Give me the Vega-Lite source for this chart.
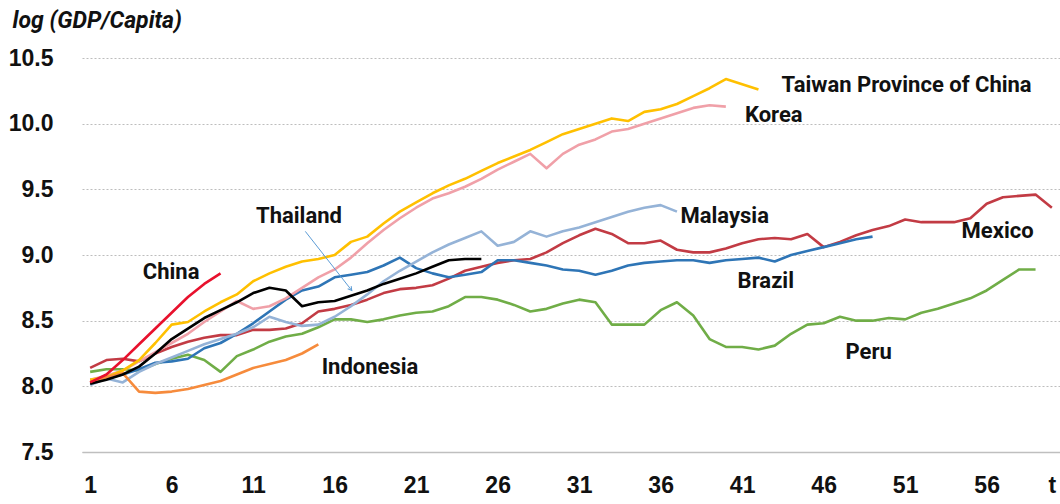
{
  "$schema": "https://vega.github.io/schema/vega-lite/v6.json",
  "width": 978,
  "height": 394,
  "autosize": {"type": "none"},
  "padding": {"left": 82, "top": 58, "right": 0, "bottom": 52},
  "background": "white",
  "config": {"view": {"stroke": null}},
  "datasets": {
    "series": [
      {"c":"Peru","t":1,"v":8.11},{"c":"Peru","t":2,"v":8.13},{"c":"Peru","t":3,"v":8.13},{"c":"Peru","t":4,"v":8.12},{"c":"Peru","t":5,"v":8.17},{"c":"Peru","t":6,"v":8.21},{"c":"Peru","t":7,"v":8.24},{"c":"Peru","t":8,"v":8.2},{"c":"Peru","t":9,"v":8.11},{"c":"Peru","t":10,"v":8.23},{"c":"Peru","t":11,"v":8.28},{"c":"Peru","t":12,"v":8.34},{"c":"Peru","t":13,"v":8.38},{"c":"Peru","t":14,"v":8.4},{"c":"Peru","t":15,"v":8.45},{"c":"Peru","t":16,"v":8.51},{"c":"Peru","t":17,"v":8.51},{"c":"Peru","t":18,"v":8.49},{"c":"Peru","t":19,"v":8.51},{"c":"Peru","t":20,"v":8.54},{"c":"Peru","t":21,"v":8.56},{"c":"Peru","t":22,"v":8.57},{"c":"Peru","t":23,"v":8.61},{"c":"Peru","t":24,"v":8.68},{"c":"Peru","t":25,"v":8.68},{"c":"Peru","t":26,"v":8.66},{"c":"Peru","t":27,"v":8.62},{"c":"Peru","t":28,"v":8.57},{"c":"Peru","t":29,"v":8.59},{"c":"Peru","t":30,"v":8.63},{"c":"Peru","t":31,"v":8.66},{"c":"Peru","t":32,"v":8.64},{"c":"Peru","t":33,"v":8.47},{"c":"Peru","t":34,"v":8.47},{"c":"Peru","t":35,"v":8.47},{"c":"Peru","t":36,"v":8.58},{"c":"Peru","t":37,"v":8.64},{"c":"Peru","t":38,"v":8.54},{"c":"Peru","t":39,"v":8.36},{"c":"Peru","t":40,"v":8.3},{"c":"Peru","t":41,"v":8.3},{"c":"Peru","t":42,"v":8.28},{"c":"Peru","t":43,"v":8.31},{"c":"Peru","t":44,"v":8.4},{"c":"Peru","t":45,"v":8.47},{"c":"Peru","t":46,"v":8.48},{"c":"Peru","t":47,"v":8.53},{"c":"Peru","t":48,"v":8.5},{"c":"Peru","t":49,"v":8.5},{"c":"Peru","t":50,"v":8.52},{"c":"Peru","t":51,"v":8.51},{"c":"Peru","t":52,"v":8.56},{"c":"Peru","t":53,"v":8.59},{"c":"Peru","t":54,"v":8.63},{"c":"Peru","t":55,"v":8.67},{"c":"Peru","t":56,"v":8.73},{"c":"Peru","t":57,"v":8.81},{"c":"Peru","t":58,"v":8.89},{"c":"Peru","t":59,"v":8.89},
      {"c":"Mexico","t":1,"v":8.14},{"c":"Mexico","t":2,"v":8.2},{"c":"Mexico","t":3,"v":8.21},{"c":"Mexico","t":4,"v":8.19},{"c":"Mexico","t":5,"v":8.25},{"c":"Mexico","t":6,"v":8.3},{"c":"Mexico","t":7,"v":8.34},{"c":"Mexico","t":8,"v":8.37},{"c":"Mexico","t":9,"v":8.39},{"c":"Mexico","t":10,"v":8.39},{"c":"Mexico","t":11,"v":8.43},{"c":"Mexico","t":12,"v":8.43},{"c":"Mexico","t":13,"v":8.44},{"c":"Mexico","t":14,"v":8.48},{"c":"Mexico","t":15,"v":8.57},{"c":"Mexico","t":16,"v":8.59},{"c":"Mexico","t":17,"v":8.62},{"c":"Mexico","t":18,"v":8.66},{"c":"Mexico","t":19,"v":8.71},{"c":"Mexico","t":20,"v":8.74},{"c":"Mexico","t":21,"v":8.75},{"c":"Mexico","t":22,"v":8.77},{"c":"Mexico","t":23,"v":8.82},{"c":"Mexico","t":24,"v":8.88},{"c":"Mexico","t":25,"v":8.91},{"c":"Mexico","t":26,"v":8.94},{"c":"Mexico","t":27,"v":8.96},{"c":"Mexico","t":28,"v":8.97},{"c":"Mexico","t":29,"v":9.02},{"c":"Mexico","t":30,"v":9.09},{"c":"Mexico","t":31,"v":9.15},{"c":"Mexico","t":32,"v":9.2},{"c":"Mexico","t":33,"v":9.16},{"c":"Mexico","t":34,"v":9.09},{"c":"Mexico","t":35,"v":9.09},{"c":"Mexico","t":36,"v":9.11},{"c":"Mexico","t":37,"v":9.04},{"c":"Mexico","t":38,"v":9.02},{"c":"Mexico","t":39,"v":9.02},{"c":"Mexico","t":40,"v":9.05},{"c":"Mexico","t":41,"v":9.09},{"c":"Mexico","t":42,"v":9.12},{"c":"Mexico","t":43,"v":9.13},{"c":"Mexico","t":44,"v":9.12},{"c":"Mexico","t":45,"v":9.16},{"c":"Mexico","t":46,"v":9.06},{"c":"Mexico","t":47,"v":9.1},{"c":"Mexico","t":48,"v":9.15},{"c":"Mexico","t":49,"v":9.19},{"c":"Mexico","t":50,"v":9.22},{"c":"Mexico","t":51,"v":9.27},{"c":"Mexico","t":52,"v":9.25},{"c":"Mexico","t":53,"v":9.25},{"c":"Mexico","t":54,"v":9.25},{"c":"Mexico","t":55,"v":9.28},{"c":"Mexico","t":56,"v":9.39},{"c":"Mexico","t":57,"v":9.44},{"c":"Mexico","t":58,"v":9.45},{"c":"Mexico","t":59,"v":9.46},{"c":"Mexico","t":60,"v":9.36},
      {"c":"Brazil","t":1,"v":8.05},{"c":"Brazil","t":2,"v":8.06},{"c":"Brazil","t":3,"v":8.09},{"c":"Brazil","t":4,"v":8.13},{"c":"Brazil","t":5,"v":8.18},{"c":"Brazil","t":6,"v":8.19},{"c":"Brazil","t":7,"v":8.21},{"c":"Brazil","t":8,"v":8.29},{"c":"Brazil","t":9,"v":8.33},{"c":"Brazil","t":10,"v":8.4},{"c":"Brazil","t":11,"v":8.48},{"c":"Brazil","t":12,"v":8.57},{"c":"Brazil","t":13,"v":8.66},{"c":"Brazil","t":14,"v":8.73},{"c":"Brazil","t":15,"v":8.76},{"c":"Brazil","t":16,"v":8.83},{"c":"Brazil","t":17,"v":8.85},{"c":"Brazil","t":18,"v":8.87},{"c":"Brazil","t":19,"v":8.92},{"c":"Brazil","t":20,"v":8.98},{"c":"Brazil","t":21,"v":8.9},{"c":"Brazil","t":22,"v":8.86},{"c":"Brazil","t":23,"v":8.83},{"c":"Brazil","t":24,"v":8.85},{"c":"Brazil","t":25,"v":8.87},{"c":"Brazil","t":26,"v":8.96},{"c":"Brazil","t":27,"v":8.96},{"c":"Brazil","t":28,"v":8.94},{"c":"Brazil","t":29,"v":8.92},{"c":"Brazil","t":30,"v":8.89},{"c":"Brazil","t":31,"v":8.88},{"c":"Brazil","t":32,"v":8.85},{"c":"Brazil","t":33,"v":8.88},{"c":"Brazil","t":34,"v":8.92},{"c":"Brazil","t":35,"v":8.94},{"c":"Brazil","t":36,"v":8.95},{"c":"Brazil","t":37,"v":8.96},{"c":"Brazil","t":38,"v":8.96},{"c":"Brazil","t":39,"v":8.94},{"c":"Brazil","t":40,"v":8.96},{"c":"Brazil","t":41,"v":8.97},{"c":"Brazil","t":42,"v":8.98},{"c":"Brazil","t":43,"v":8.95},{"c":"Brazil","t":44,"v":9.0},{"c":"Brazil","t":45,"v":9.03},{"c":"Brazil","t":46,"v":9.06},{"c":"Brazil","t":47,"v":9.09},{"c":"Brazil","t":48,"v":9.12},{"c":"Brazil","t":49,"v":9.14},
      {"c":"Malaysia","t":1,"v":8.01},{"c":"Malaysia","t":2,"v":8.06},{"c":"Malaysia","t":3,"v":8.03},{"c":"Malaysia","t":4,"v":8.11},{"c":"Malaysia","t":5,"v":8.17},{"c":"Malaysia","t":6,"v":8.22},{"c":"Malaysia","t":7,"v":8.27},{"c":"Malaysia","t":8,"v":8.32},{"c":"Malaysia","t":9,"v":8.36},{"c":"Malaysia","t":10,"v":8.4},{"c":"Malaysia","t":11,"v":8.45},{"c":"Malaysia","t":12,"v":8.53},{"c":"Malaysia","t":13,"v":8.49},{"c":"Malaysia","t":14,"v":8.46},{"c":"Malaysia","t":15,"v":8.47},{"c":"Malaysia","t":16,"v":8.53},{"c":"Malaysia","t":17,"v":8.61},{"c":"Malaysia","t":18,"v":8.7},{"c":"Malaysia","t":19,"v":8.8},{"c":"Malaysia","t":20,"v":8.88},{"c":"Malaysia","t":21,"v":8.95},{"c":"Malaysia","t":22,"v":9.02},{"c":"Malaysia","t":23,"v":9.08},{"c":"Malaysia","t":24,"v":9.13},{"c":"Malaysia","t":25,"v":9.18},{"c":"Malaysia","t":26,"v":9.07},{"c":"Malaysia","t":27,"v":9.1},{"c":"Malaysia","t":28,"v":9.18},{"c":"Malaysia","t":29,"v":9.14},{"c":"Malaysia","t":30,"v":9.18},{"c":"Malaysia","t":31,"v":9.21},{"c":"Malaysia","t":32,"v":9.25},{"c":"Malaysia","t":33,"v":9.29},{"c":"Malaysia","t":34,"v":9.33},{"c":"Malaysia","t":35,"v":9.36},{"c":"Malaysia","t":36,"v":9.38},{"c":"Malaysia","t":37,"v":9.33},
      {"c":"Korea","t":1,"v":8.05},{"c":"Korea","t":2,"v":8.08},{"c":"Korea","t":3,"v":8.12},{"c":"Korea","t":4,"v":8.19},{"c":"Korea","t":5,"v":8.26},{"c":"Korea","t":6,"v":8.33},{"c":"Korea","t":7,"v":8.4},{"c":"Korea","t":8,"v":8.49},{"c":"Korea","t":9,"v":8.57},{"c":"Korea","t":10,"v":8.65},{"c":"Korea","t":11,"v":8.59},{"c":"Korea","t":12,"v":8.61},{"c":"Korea","t":13,"v":8.67},{"c":"Korea","t":14,"v":8.75},{"c":"Korea","t":15,"v":8.83},{"c":"Korea","t":16,"v":8.89},{"c":"Korea","t":17,"v":8.98},{"c":"Korea","t":18,"v":9.09},{"c":"Korea","t":19,"v":9.19},{"c":"Korea","t":20,"v":9.28},{"c":"Korea","t":21,"v":9.36},{"c":"Korea","t":22,"v":9.43},{"c":"Korea","t":23,"v":9.47},{"c":"Korea","t":24,"v":9.52},{"c":"Korea","t":25,"v":9.58},{"c":"Korea","t":26,"v":9.65},{"c":"Korea","t":27,"v":9.71},{"c":"Korea","t":28,"v":9.77},{"c":"Korea","t":29,"v":9.66},{"c":"Korea","t":30,"v":9.77},{"c":"Korea","t":31,"v":9.84},{"c":"Korea","t":32,"v":9.88},{"c":"Korea","t":33,"v":9.94},{"c":"Korea","t":34,"v":9.96},{"c":"Korea","t":35,"v":10.0},{"c":"Korea","t":36,"v":10.04},{"c":"Korea","t":37,"v":10.08},{"c":"Korea","t":38,"v":10.12},{"c":"Korea","t":39,"v":10.14},{"c":"Korea","t":40,"v":10.13},
      {"c":"Taiwan","t":1,"v":8.05},{"c":"Taiwan","t":2,"v":8.07},{"c":"Taiwan","t":3,"v":8.12},{"c":"Taiwan","t":4,"v":8.2},{"c":"Taiwan","t":5,"v":8.33},{"c":"Taiwan","t":6,"v":8.47},{"c":"Taiwan","t":7,"v":8.49},{"c":"Taiwan","t":8,"v":8.57},{"c":"Taiwan","t":9,"v":8.64},{"c":"Taiwan","t":10,"v":8.7},{"c":"Taiwan","t":11,"v":8.8},{"c":"Taiwan","t":12,"v":8.86},{"c":"Taiwan","t":13,"v":8.91},{"c":"Taiwan","t":14,"v":8.95},{"c":"Taiwan","t":15,"v":8.97},{"c":"Taiwan","t":16,"v":9.0},{"c":"Taiwan","t":17,"v":9.1},{"c":"Taiwan","t":18,"v":9.14},{"c":"Taiwan","t":19,"v":9.24},{"c":"Taiwan","t":20,"v":9.33},{"c":"Taiwan","t":21,"v":9.4},{"c":"Taiwan","t":22,"v":9.47},{"c":"Taiwan","t":23,"v":9.53},{"c":"Taiwan","t":24,"v":9.58},{"c":"Taiwan","t":25,"v":9.64},{"c":"Taiwan","t":26,"v":9.7},{"c":"Taiwan","t":27,"v":9.75},{"c":"Taiwan","t":28,"v":9.8},{"c":"Taiwan","t":29,"v":9.86},{"c":"Taiwan","t":30,"v":9.92},{"c":"Taiwan","t":31,"v":9.96},{"c":"Taiwan","t":32,"v":10.0},{"c":"Taiwan","t":33,"v":10.04},{"c":"Taiwan","t":34,"v":10.02},{"c":"Taiwan","t":35,"v":10.09},{"c":"Taiwan","t":36,"v":10.11},{"c":"Taiwan","t":37,"v":10.15},{"c":"Taiwan","t":38,"v":10.21},{"c":"Taiwan","t":39,"v":10.27},{"c":"Taiwan","t":40,"v":10.34},{"c":"Taiwan","t":41,"v":10.3},{"c":"Taiwan","t":42,"v":10.26},
      {"c":"Indonesia","t":1,"v":8.03},{"c":"Indonesia","t":2,"v":8.07},{"c":"Indonesia","t":3,"v":8.1},{"c":"Indonesia","t":4,"v":7.96},{"c":"Indonesia","t":5,"v":7.95},{"c":"Indonesia","t":6,"v":7.96},{"c":"Indonesia","t":7,"v":7.98},{"c":"Indonesia","t":8,"v":8.01},{"c":"Indonesia","t":9,"v":8.04},{"c":"Indonesia","t":10,"v":8.09},{"c":"Indonesia","t":11,"v":8.14},{"c":"Indonesia","t":12,"v":8.17},{"c":"Indonesia","t":13,"v":8.2},{"c":"Indonesia","t":14,"v":8.25},{"c":"Indonesia","t":15,"v":8.32},
      {"c":"Thailand","t":1,"v":8.02},{"c":"Thailand","t":2,"v":8.05},{"c":"Thailand","t":3,"v":8.09},{"c":"Thailand","t":4,"v":8.15},{"c":"Thailand","t":5,"v":8.25},{"c":"Thailand","t":6,"v":8.36},{"c":"Thailand","t":7,"v":8.44},{"c":"Thailand","t":8,"v":8.52},{"c":"Thailand","t":9,"v":8.58},{"c":"Thailand","t":10,"v":8.64},{"c":"Thailand","t":11,"v":8.71},{"c":"Thailand","t":12,"v":8.75},{"c":"Thailand","t":13,"v":8.73},{"c":"Thailand","t":14,"v":8.61},{"c":"Thailand","t":15,"v":8.64},{"c":"Thailand","t":16,"v":8.65},{"c":"Thailand","t":17,"v":8.69},{"c":"Thailand","t":18,"v":8.73},{"c":"Thailand","t":19,"v":8.78},{"c":"Thailand","t":20,"v":8.82},{"c":"Thailand","t":21,"v":8.86},{"c":"Thailand","t":22,"v":8.91},{"c":"Thailand","t":23,"v":8.96},{"c":"Thailand","t":24,"v":8.97},{"c":"Thailand","t":25,"v":8.97},
      {"c":"China","t":1,"v":8.03},{"c":"China","t":2,"v":8.09},{"c":"China","t":3,"v":8.2},{"c":"China","t":4,"v":8.32},{"c":"China","t":5,"v":8.44},{"c":"China","t":6,"v":8.56},{"c":"China","t":7,"v":8.68},{"c":"China","t":8,"v":8.78},{"c":"China","t":9,"v":8.86}
    ],
    "labels": [
      {"name":"China","t":5.97,"v":8.87},
      {"name":"Thailand","t":13.81,"v":9.3},
      {"name":"Indonesia","t":18.17,"v":8.15},
      {"name":"Malaysia","t":39.93,"v":9.3},
      {"name":"Korea","t":42.94,"v":10.065},
      {"name":"Taiwan Province of China","t":51.09,"v":10.293},
      {"name":"Mexico","t":56.67,"v":9.18},
      {"name":"Brazil","t":42.45,"v":8.8},
      {"name":"Peru","t":48.76,"v":8.26}
    ],
    "arrow": [
      {"t1":14.2,"v1":9.18,"t2":17.05,"v2":8.73}
    ]
  },
  "layer": [
    {
      "data": {"name": "series"},
      "mark": {"type": "line", "strokeWidth": 2.6, "strokeJoin": "round"},
      "encoding": {
        "x": {
          "field": "t", "type": "quantitative",
          "scale": {"domain": [0.5, 60.5], "nice": false, "zero": false},
          "axis": {
            "values": [1, 6, 11, 16, 21, 26, 31, 36, 41, 46, 51, 56, 60],
            "labelExpr": "datum.value == 60 ? 't' : datum.label",
            "title": null,
            "grid": false,
            "ticks": false,
            "domain": true,
            "domainColor": "#BFBFBF",
            "domainWidth": 1.5,
            "labelFont": "Liberation Sans",
            "labelFontSize": 23,
            "labelFontWeight": "bold",
            "labelColor": "#111111",
            "labelPadding": 22,
            "labelOverlap": false,
            "labelFlush": false,
            "labelBound": false
          }
        },
        "y": {
          "field": "v", "type": "quantitative",
          "scale": {"domain": [7.5, 10.5], "nice": false, "zero": false},
          "axis": {
            "values": [7.5, 8, 8.5, 9, 9.5, 10, 10.5],
            "format": ".1f",
            "grid": true,
            "gridDash": [2, 2],
            "gridColor": "#BDBDBD",
            "gridWidth": 1,
            "domain": false,
            "ticks": false,
            "labelFont": "Liberation Sans",
            "labelFontSize": 23,
            "labelFontWeight": "bold",
            "labelColor": "#111111",
            "labelPadding": 29,
            "labelOverlap": false,
            "title": "log (GDP/Capita)",
            "titleAngle": 0,
            "titleX": -70,
            "titleY": -31,
            "titleAlign": "left",
            "titleBaseline": "alphabetic",
            "titleFont": "Roboto",
            "titleFontStyle": "italic",
            "titleFontWeight": "bold",
            "titleFontSize": 23,
            "titleColor": "#111111"
          }
        },
        "color": {
          "field": "c", "type": "nominal",
          "scale": {
            "domain": ["Peru", "Mexico", "Brazil", "Malaysia", "Korea", "Taiwan", "Indonesia", "Thailand", "China"],
            "range": ["#70AD47", "#C23B44", "#2E75B6", "#95B3D7", "#F0A0A8", "#FFC000", "#F68B3C", "#000000", "#E8112D"]
          },
          "legend": null
        }
      }
    },
    {
      "data": {"name": "arrow"},
      "mark": {"type": "rule", "color": "#5B9BD5", "strokeWidth": 1},
      "encoding": {
        "x": {"field": "t1", "type": "quantitative", "scale": {"domain": [0.5, 60.5], "nice": false, "zero": false}},
        "y": {"field": "v1", "type": "quantitative", "scale": {"domain": [7.5, 10.5], "nice": false, "zero": false}},
        "x2": {"field": "t2"},
        "y2": {"field": "v2"}
      }
    },
    {
      "data": {"name": "arrow"},
      "mark": {"type": "point", "shape": "M-0.7,-1.2L0,0L0.7,-1.2", "filled": false, "color": "#5B9BD5", "strokeWidth": 1, "size": 40, "angle": 322, "opacity": 1},
      "encoding": {
        "x": {"field": "t2", "type": "quantitative", "scale": {"domain": [0.5, 60.5], "nice": false, "zero": false}},
        "y": {"field": "v2", "type": "quantitative", "scale": {"domain": [7.5, 10.5], "nice": false, "zero": false}}
      }
    },
    {
      "data": {"name": "labels"},
      "mark": {"type": "text", "font": "Roboto", "fontWeight": "bold", "fontSize": 22, "color": "#111111", "align": "center", "baseline": "middle"},
      "encoding": {
        "x": {"field": "t", "type": "quantitative", "scale": {"domain": [0.5, 60.5], "nice": false, "zero": false}},
        "y": {"field": "v", "type": "quantitative", "scale": {"domain": [7.5, 10.5], "nice": false, "zero": false}},
        "text": {"field": "name"}
      }
    }
  ]
}
